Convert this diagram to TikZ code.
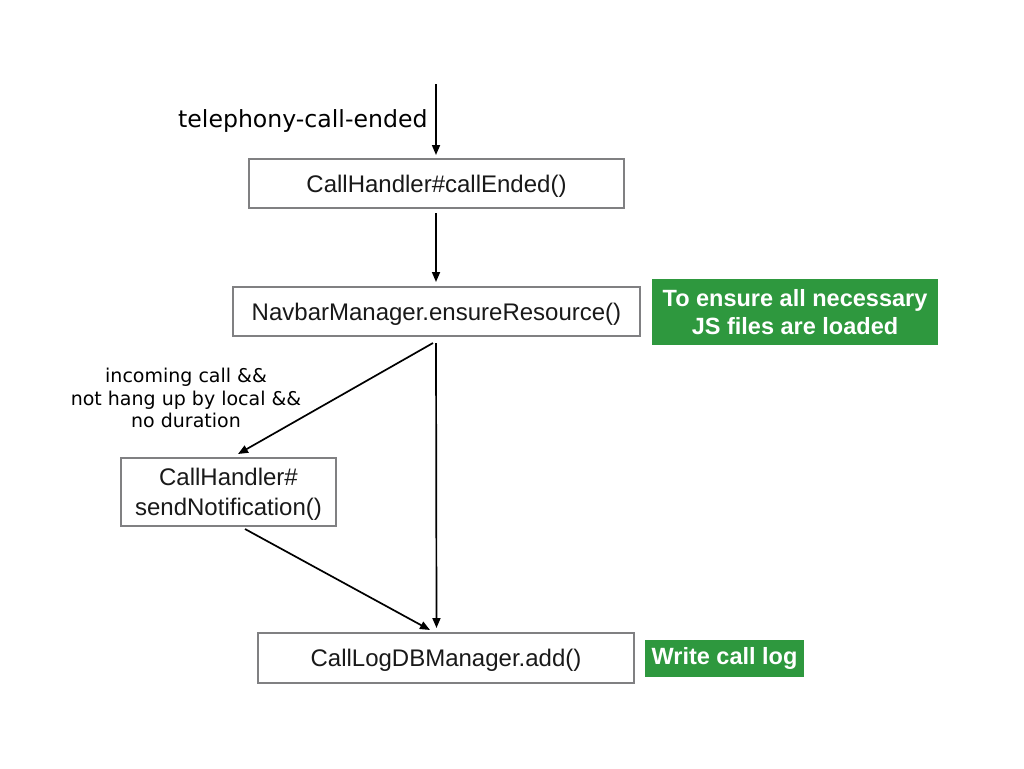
\documentclass[tikz,border=0pt]{standalone}
\usepackage{fontspec}
\setmainfont{Liberation Sans}
\newfontfamily\lucida{DejaVu Sans}
\usetikzlibrary{arrows.meta,calc}
\definecolor{keygreen}{RGB}{46,152,62}
\definecolor{boxgray}{RGB}{128,128,130}
\definecolor{txt}{RGB}{25,25,25}
\begin{document}
\begin{tikzpicture}[x=1pt,y=-1pt,
  flowbox/.style={draw=boxgray, line width=2pt, fill=white, inner sep=0pt, align=center,
    text=txt, font=\fontsize{24}{30}\selectfont, text depth=0pt},
  notebox/.style={fill=keygreen, text=white, inner sep=0pt, align=center,
    font=\bfseries\fontsize{23.5}{28}\selectfont},
  arr/.style={draw=black, line width=1.7pt, -{Triangle[length=10pt,width=8pt]}},
  cond/.style={font=\lucida\fontsize{19}{22.5}\selectfont, align=center, text=black},
  evt/.style={font=\lucida\fontsize{23.6}{26}\selectfont, text=black, anchor=east}
]
\useasboundingbox (0,0) rectangle (1024,768);
\fill[white] (0,0) rectangle (1024,768);

\node[flowbox, minimum width=375pt, minimum height=49pt] (b1) at (436.5,183.5) {CallHandler\#callEnded()};
\node[flowbox, minimum width=407pt, minimum height=49pt] (b2) at (436.5,311.5) {NavbarManager.ensureResource()};
\node[flowbox, minimum width=215pt, minimum height=68pt] (b3) at (228.5,492) {CallHandler\#\\sendNotification()};
\node[flowbox, minimum width=376pt, minimum height=50pt] (b4) at (446,658) {CallLogDBManager.add()};

\node[notebox, minimum width=286pt, minimum height=66pt] (n1) at (795,312) {To ensure all necessary\\JS files are loaded};
\node[notebox, minimum width=159pt, minimum height=37pt] (n2) at (724.5,658.5) {Write call log};

\coordinate (top) at (436,84);
\node[evt] (evtlabel) at (431,121) {telephony-call-ended};
\node[cond] (condlabel) at (186,398) {incoming call \&\&\\not hang up by local \&\&\\no duration};

\draw[arr] (top) -- ($(b1.north)+(-0.5,-3)$);
\draw[arr] ($(b1.south)+(-0.5,4)$) -- ($(b2.north)+(-0.5,-4)$);
\draw[arr] ($(b2.south)+(-3.5,6)$) -- ($(b3.north)+(9.5,-3)$);
\draw[arr] ($(b2.south)+(-0.5,6)$) -- ($(b4.north)+(-9.5,-4)$);
\draw[arr] ($(b3.south)+(16.5,2)$) -- ($(b4.north)+(-16,-2)$);
\end{tikzpicture}
\end{document}
